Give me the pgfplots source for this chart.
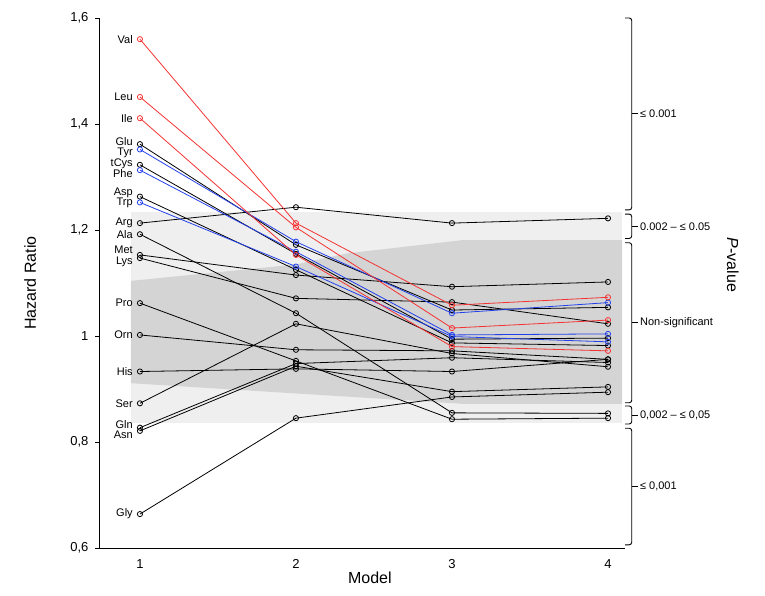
\documentclass[border=0pt]{standalone}
\usepackage{pgfplots}
\pgfplotsset{compat=1.18}
\usepackage{fontspec}
\setmainfont{Liberation Sans}
\usetikzlibrary{calc}
\definecolor{lband}{RGB}{239,239,239}
\definecolor{dband}{RGB}{212,212,212}
\definecolor{myred}{RGB}{245,50,50}
\definecolor{myblue}{RGB}{35,65,235}
\begin{document}
\begin{tikzpicture}
\begin{axis}[
  scale only axis, width=525pt, height=530pt,
  xmin=0.744, xmax=4.109, ymin=0.6, ymax=1.6,
  axis x line=bottom, axis y line=left,
  axis line style={-, line width=1pt},
  xtick={1,2,3,4}, xticklabels={1,2,3,4},
  ytick={0.6,0.8,1,1.2,1.4,1.6},
  yticklabels={{0,6},{0,8},{1},{1,2},{1,4},{1,6}},
  tick style={black, line width=0.8pt},
  major tick length=5pt,
  xtick style={draw=none},
  tick align=outside,
  ticklabel style={font=\fontsize{13}{15}\selectfont},
  xticklabel style={yshift=-3pt},
  yticklabel style={xshift=-3pt},
  xlabel={Model}, ylabel={Hazard Ratio},
  label style={font=\fontsize{16}{18}\selectfont},
  xlabel style={at={(axis description cs:0.514,-0.0566)}, anchor=center},
  ylabel style={at={(axis description cs:-0.133,0.5)}, anchor=center},
  clip=false,
  every axis plot/.append style={line width=0.8pt, mark=o, mark size=2.6pt, mark options={fill=white, solid}},
]
% bands
\addplot[fill=lband, draw=none, mark=none] coordinates {(0.942,0.835) (4.09,0.835) (4.09,1.234) (0.942,1.234)} -- cycle;
\addplot[fill=dband, draw=none, mark=none] coordinates {(0.942,1.104) (2.0,1.135) (2.33,1.156) (3.07,1.181) (4.09,1.181) (4.09,0.872) (3.07,0.872) (0.942,0.911)} -- cycle;
% black series
\addplot[black] coordinates {(1,1.362) (2,1.172) (3,1.049) (4,1.054)}; % Glu
\addplot[black] coordinates {(1,1.323) (2,1.155) (3,0.994) (4,0.996)}; % tCys
\addplot[black] coordinates {(1,1.263) (2,1.125) (3,0.987) (4,0.982)}; % Asp
\addplot[black] coordinates {(1,1.213) (2,1.243) (3,1.213) (4,1.222)}; % Arg
\addplot[black] coordinates {(1,1.192) (2,1.043) (3,0.855) (4,0.854)}; % Ala
\addplot[black] coordinates {(1,1.153) (2,1.115) (3,1.093) (4,1.102)}; % Met
\addplot[black] coordinates {(1,1.147) (2,1.071) (3,1.064) (4,1.023)}; % Lys
\addplot[black] coordinates {(1,1.062) (2,0.953) (3,0.843) (4,0.845)}; % Pro
\addplot[black] coordinates {(1,1.002) (2,0.974) (3,0.972) (4,0.956)}; % Orn
\addplot[black] coordinates {(1,0.933) (2,0.938) (3,0.933) (4,0.956)}; % His
\addplot[black] coordinates {(1,0.873) (2,1.023) (3,0.967) (4,0.942)}; % Ser
\addplot[black] coordinates {(1,0.827) (2,0.948) (3,0.959) (4,0.950)}; % Gln
\addplot[black] coordinates {(1,0.821) (2,0.943) (3,0.895) (4,0.904)}; % Asn
\addplot[black] coordinates {(1,0.664) (2,0.845) (3,0.885) (4,0.894)}; % Gly
% blue series
\addplot[myblue] coordinates {(1,1.352) (2,1.178) (3,1.043) (4,1.063)}; % Tyr
\addplot[myblue] coordinates {(1,1.313) (2,1.159) (3,1.002) (4,1.004)}; % Phe
\addplot[myblue] coordinates {(1,1.252) (2,1.131) (3,0.999) (4,0.989)}; % Trp
% red series
\addplot[myred] coordinates {(1,1.560) (2,1.213) (3,1.058) (4,1.073)}; % Val
\addplot[myred] coordinates {(1,1.451) (2,1.205) (3,1.015) (4,1.030)}; % Leu
\addplot[myred] coordinates {(1,1.411) (2,1.153) (3,0.980) (4,0.972)}; % Ile
% labels
\begin{scope}[every node/.style={anchor=east, font=\fontsize{11}{12}\selectfont, inner sep=0pt}]
\node at (axis cs:0.955,1.560) {Val};
\node at (axis cs:0.955,1.451) {Leu};
\node at (axis cs:0.955,1.411) {Ile};
\node at (axis cs:0.955,1.367) {Glu};
\node at (axis cs:0.955,1.346) {Tyr};
\node at (axis cs:0.955,1.325) {tCys};
\node at (axis cs:0.955,1.306) {Phe};
\node at (axis cs:0.955,1.270) {Asp};
\node at (axis cs:0.955,1.251) {Trp};
\node at (axis cs:0.955,1.213) {Arg};
\node at (axis cs:0.955,1.192) {Ala};
\node at (axis cs:0.955,1.162) {Met};
\node at (axis cs:0.955,1.140) {Lys};
\node at (axis cs:0.955,1.062) {Pro};
\node at (axis cs:0.955,1.002) {Orn};
\node at (axis cs:0.955,0.933) {His};
\node at (axis cs:0.955,0.873) {Ser};
\node at (axis cs:0.955,0.832) {Gln};
\node at (axis cs:0.955,0.813) {Asn};
\node at (axis cs:0.955,0.664) {Gly};
\end{scope}
% brackets
\begin{scope}[line width=0.9pt, rounded corners=2.5pt, every node/.style={anchor=west, font=\fontsize{11}{12}\selectfont, inner sep=0pt}]
\draw (axis cs:4.109,1.600) -- (axis cs:4.152,1.600) -- (axis cs:4.152,1.238) -- (axis cs:4.109,1.238);
\draw[rounded corners=0pt] (axis cs:4.152,1.419) -- (axis cs:4.19,1.419) node[right=2pt] {≤ 0.001};
\draw (axis cs:4.109,1.230) -- (axis cs:4.152,1.230) -- (axis cs:4.152,1.184) -- (axis cs:4.109,1.184);
\draw[rounded corners=0pt] (axis cs:4.152,1.207) -- (axis cs:4.19,1.207) node[right=2pt] {0.002 – ≤ 0.05};
\draw (axis cs:4.109,1.176) -- (axis cs:4.152,1.176) -- (axis cs:4.152,0.874) -- (axis cs:4.109,0.874);
\draw[rounded corners=0pt] (axis cs:4.152,1.025) -- (axis cs:4.19,1.025) node[right=2pt] {Non-significant};
\draw (axis cs:4.109,0.868) -- (axis cs:4.152,0.868) -- (axis cs:4.152,0.834) -- (axis cs:4.109,0.834);
\draw[rounded corners=0pt] (axis cs:4.152,0.851) -- (axis cs:4.19,0.851) node[right=2pt] {0,002 – ≤ 0,05};
\draw (axis cs:4.109,0.826) -- (axis cs:4.152,0.826) -- (axis cs:4.152,0.606) -- (axis cs:4.109,0.606);
\draw[rounded corners=0pt] (axis cs:4.152,0.716) -- (axis cs:4.19,0.716) node[right=2pt] {≤ 0,001};
\end{scope}
\node[rotate=-90, font=\fontsize{16}{18}\selectfont] at (axis cs:4.80,1.134) {\textit{P}-value};
\end{axis}
\pgfresetboundingbox
\path[use as bounding box] ($(current axis.south west)+(-100pt,-47pt)$) rectangle ($(current axis.north east)+(140pt,18pt)$);
\end{tikzpicture}
\end{document}
